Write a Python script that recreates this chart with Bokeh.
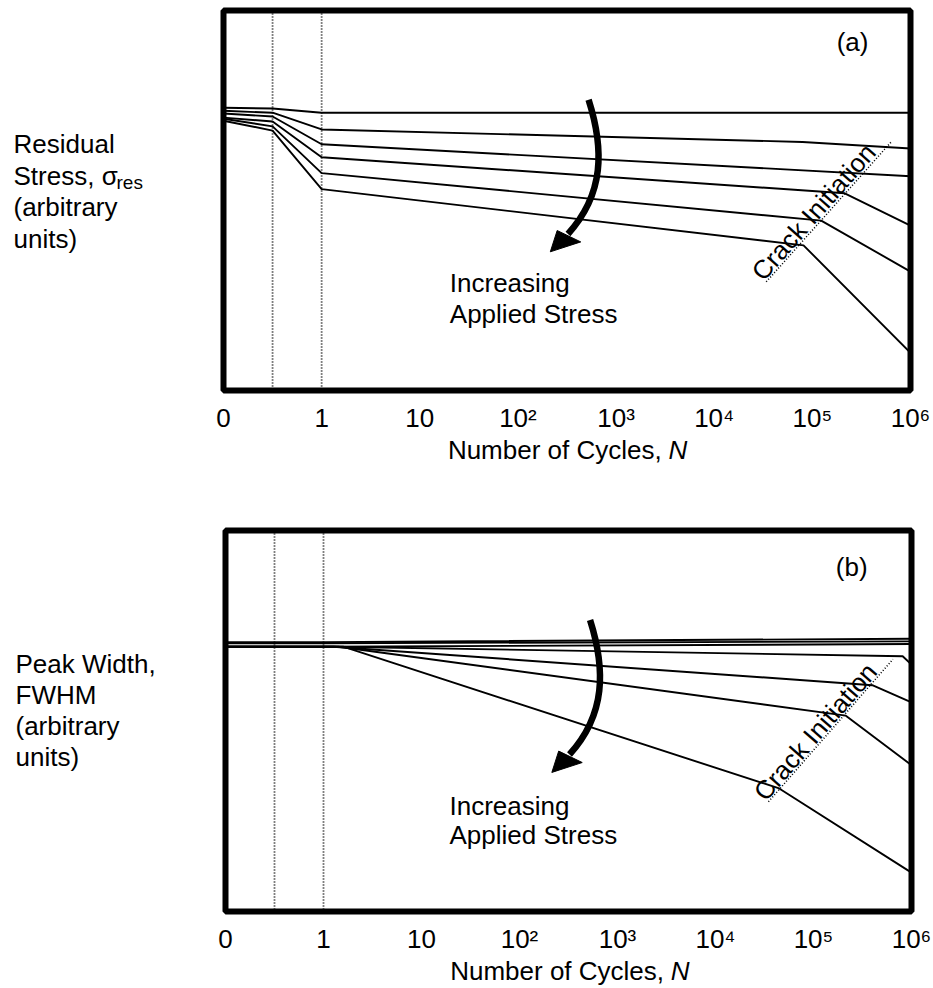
from bokeh.plotting import figure
from bokeh.models import Range1d, Span, Label, FixedTicker
from bokeh.layouts import column, row
from bokeh.embed import file_html
from bokeh.resources import INLINE

# ---------------- data ----------------
# x axis position: 0 -> N = 0, k -> N = 10^(k-1)
tick_pos = [0, 1, 2, 3, 4, 5, 6, 7]
tick_labels = ["0", "1", "10", "10\u00b2", "10\u00b3", "10\u2074", "10\u2075", "10\u2076"]
guide_x = [0.5, 1]

# panel (a): residual stress (arbitrary units)
res_x_1 = [0, 0.5, 1, 7]
res_y_1 = [74.4, 74.2, 73.1, 73.1]
res_x_2 = [0, 0.5, 1, 5.9, 7]
res_y_2 = [73.6, 73.1, 68.7, 65.4, 63.7]
res_x_3 = [0, 0.5, 1, 7]
res_y_3 = [72.9, 72.1, 64.8, 56.4]
res_x_4 = [0, 0.5, 1, 6.33, 7]
res_y_4 = [71.8, 70.8, 61.4, 51.9, 43.4]
res_x_5 = [0, 0.5, 1, 6.09, 7]
res_y_5 = [71.5, 69.5, 57.2, 44.7, 31.3]
res_x_6 = [0, 0.5, 1, 5.91, 7]
res_y_6 = [71.0, 68.4, 53.0, 38.2, 9.9]
crack_a_x = [5.53, 6.81]
crack_a_y = [28.6, 65.6]

# panel (b): peak width FWHM (arbitrary units)
fwhm_x_1 = [0, 1, 7]
fwhm_y_1 = [70.7, 70.7, 71.6]
fwhm_x_2 = [0, 1, 7]
fwhm_y_2 = [70.4, 70.4, 70.9]
fwhm_x_3 = [0, 1, 7]
fwhm_y_3 = [69.5, 69.5, 70.2]
fwhm_x_4 = [0, 1.1, 6.91, 7]
fwhm_y_4 = [69.5, 69.5, 67.0, 64.8]
fwhm_x_5 = [0, 1.1, 6.6, 7]
fwhm_y_5 = [69.5, 69.5, 59.4, 54.9]
fwhm_x_6 = [0, 1.15, 6.33, 7]
fwhm_y_6 = [69.5, 69.5, 51.4, 38.4]
fwhm_x_7 = [0, 1.2, 5.65, 7]
fwhm_y_7 = [69.5, 69.5, 32.3, 10.2]
crack_b_x = [5.54, 6.81]
crack_b_y = [28.8, 66.2]

# curved "increasing applied stress" arrow (bezier shaft + head)
arrow_shaft = dict(x0=3.72, y0=76.5, cx0=3.88, cy0=63.5, cx1=3.88, cy1=51.7, x1=3.51, y1=41.2)
arrow_head_x = [3.33, 3.40, 3.64]
arrow_head_y = [36.5, 42.1, 39.1]

FONT = "Liberation Sans"
FS = "26px"


def lab(p, x, y, text, align="left", size=FS, style="normal", angle=0.0):
    p.add_layout(Label(x=x, y=y, text=text, text_font=FONT, text_font_size=size,
                       text_font_style=style, text_color="black", text_align=align,
                       text_baseline="middle", angle=angle))


def blank(width, height):
    p = figure(width=width, height=height, output_backend="svg", toolbar_location=None,
               x_range=Range1d(0, width), y_range=Range1d(height, 0),
               x_axis_location=None, y_axis_location=None, min_border=0)
    p.xgrid.visible = False
    p.ygrid.visible = False
    p.outline_line_color = None
    return p


def make_main(height, bl, br, bt, bb, xs, ys, crack_x, crack_y, tag, tag_pos,
              text_x, text_y, crack_pos, crack_angle):
    p = figure(width=718, height=height, output_backend="svg", toolbar_location=None,
               x_range=Range1d(0, 7), y_range=Range1d(0, 100),
               y_axis_location=None, min_border_left=bl, min_border_right=br,
               min_border_top=bt, min_border_bottom=bb)
    p.xgrid.visible = False
    p.ygrid.visible = False
    p.outline_line_color = "black"
    p.outline_line_width = 6

    ax = p.xaxis[0]
    ax.ticker = FixedTicker(ticks=tick_pos)
    ax.major_label_overrides = dict(zip(tick_pos, tick_labels))
    ax.axis_line_color = None
    ax.major_tick_line_color = None
    ax.minor_tick_line_color = None
    ax.major_tick_out = 0
    ax.major_tick_in = 0
    ax.minor_tick_out = 0
    ax.minor_tick_in = 0
    ax.major_label_text_font = FONT
    ax.major_label_text_font_size = FS
    ax.major_label_text_color = "black"
    ax.major_label_standoff = 12

    for gx in guide_x:
        p.add_layout(Span(location=gx, dimension="height", line_color="black",
                          line_width=1.8, line_dash="1 2"))

    for x, y in zip(xs, ys):
        p.line(x, y, line_color="black", line_width=1.9)

    p.line(crack_x, crack_y, line_color="black", line_width=1.6, line_dash="1 2")

    p.bezier(line_color="black", line_width=6.5, **arrow_shaft)
    p.patch(arrow_head_x, arrow_head_y, fill_color="black", line_color="black", line_width=1)

    lab(p, crack_pos[0], crack_pos[1], "Crack Initiation", align="center", angle=crack_angle)
    lab(p, tag_pos[0], tag_pos[1], tag, align="center")
    lab(p, text_x, text_y[0], "Increasing")
    lab(p, text_x, text_y[1], "Applied Stress")
    return p


# ---- panel (a) ----  (page origin is the top-left corner of the layout)
main_a = make_main(435, 8, 23, 10, 42,
                   [res_x_1, res_x_2, res_x_3, res_x_4, res_x_5, res_x_6],
                   [res_y_1, res_y_2, res_y_3, res_y_4, res_y_5, res_y_6],
                   crack_a_x, crack_a_y, "(a)", (6.41, 91.8),
                   2.306, [28.3, 20.2], (6.014, 47.0), 0.848)
ylab_a = blank(215, 508)
lab(ylab_a, 13, 143.7, "Residual")
lab(ylab_a, 13, 175.3, "Stress, \u03c3")
lab(ylab_a, 116, 182.4, "res", size="19px")
lab(ylab_a, 13, 206.9, "(arbitrary")
lab(ylab_a, 13, 238.5, "units)")
title_a = blank(718, 73)
lab(title_a, 458, 14.3, "Number of Cycles,", align="right")
lab(title_a, 465, 14.3, "N", style="italic")

# ---- panel (b) ----
main_b = make_main(448, 10, 22, 22, 42,
                   [fwhm_x_1, fwhm_x_2, fwhm_x_3, fwhm_x_4, fwhm_x_5, fwhm_x_6, fwhm_x_7],
                   [fwhm_y_1, fwhm_y_2, fwhm_y_3, fwhm_y_4, fwhm_y_5, fwhm_y_6, fwhm_y_7],
                   crack_b_x, crack_b_y, "(b)", (6.39, 90.5),
                   2.286, [27.8, 20.0], (6.020, 47.2), 0.855)
ylab_b = blank(215, 480)
lab(ylab_b, 15, 155.7, "Peak Width,")
lab(ylab_b, 15, 186.7, "FWHM")
lab(ylab_b, 15, 217.7, "(arbitrary")
lab(ylab_b, 15, 248.7, "units)")
title_b = blank(718, 32)
lab(title_b, 459, 14, "Number of Cycles,", align="right")
lab(title_b, 466, 14, "N", style="italic")

layout = column(row(ylab_a, column(main_a, title_a)),
                row(ylab_b, column(main_b, title_b)))
open("out.html", "w").write(file_html(layout, INLINE))
